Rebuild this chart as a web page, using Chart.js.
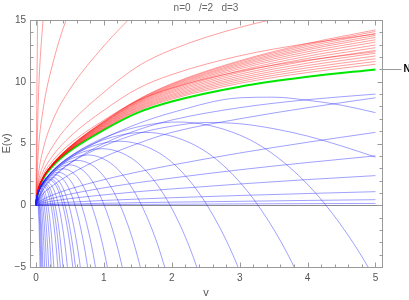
<!DOCTYPE html>
<html><head><meta charset="utf-8">
<script src="https://cdn.jsdelivr.net/npm/chart.js@4"></script>
<style>html,body{margin:0;padding:0;background:#fff}canvas{display:block}</style>
</head><body>
<canvas id="c" width="409" height="300"></canvas>
<script>
const titleText = "n=0   /=2   d=3";
const xLabel = "v";
const yLabel = "E(v)";
const lineLabel = "N";
const xTicks = [0,1,2,3,4,5];
const yTicks = [-5,0,5,10,15];

const vGrid  = [0,0.03,0.1,0.25,0.5,1,1.5,2,3,4,5];
const greenE = [0,1.1,2.1,3.2,4.4,6.1,7.5,8.4,9.6,10.4,11.0];

const redBand = [
 [0,1.11,2.11,3.23,4.45,6.19,7.64,8.59,9.87,10.75,11.42],
 [0,1.11,2.12,3.24,4.47,6.24,7.71,8.69,10.02,10.94,11.64],
 [0,1.11,2.13,3.25,4.49,6.29,7.78,8.79,10.17,11.13,11.86],
 [0,1.12,2.13,3.27,4.52,6.34,7.86,8.89,10.31,11.32,12.09],
 [0,1.12,2.14,3.28,4.54,6.39,7.93,8.99,10.46,11.51,12.31],
 [0,1.12,2.15,3.30,4.57,6.44,8.00,9.10,10.61,11.70,12.54],
 [0,1.13,2.16,3.31,4.59,6.49,8.08,9.20,10.76,11.89,12.76],
 [0,1.13,2.16,3.32,4.62,6.53,8.15,9.30,10.90,12.07,12.98],
 [0,1.13,2.17,3.34,4.64,6.58,8.22,9.40,11.05,12.26,13.21],
 [0,1.14,2.18,3.35,4.66,6.63,8.29,9.49,11.18,12.43,13.40],
 [0,1.14,2.18,3.36,4.68,6.67,8.35,9.57,11.30,12.59,13.59],
 [0,1.14,2.19,3.37,4.70,6.70,8.40,9.65,11.41,12.72,13.75],
 [0,1.15,2.19,3.38,4.72,6.74,8.46,9.72,11.51,12.86,13.91],
 [0,1.15,2.20,3.39,4.74,6.77,8.51,9.79,11.62,12.99,14.07],
 [0,1.15,2.20,3.40,4.75,6.80,8.55,9.85,11.70,13.10,14.20]
];
const redFanOnGrid = [
 [0,1.24,2.37,3.62,4.97,6.89,8.48,9.49,10.85,11.75,12.43],
 [0,1.39,2.65,4.03,5.54,7.69,9.45,10.58,12.10,13.10,13.86],
 [0,1.65,3.15,4.80,6.60,9.15,11.25,12.60,14.40,15.60,16.50]
];
const redSteep = [
 [[0,0],[0.03,2.2],[0.1,4.4],[0.25,6.9],[0.5,9.4],[1,12.9],[1.5,15.8]],
 [[0,0],[0.03,3.96],[0.1,7.56],[0.25,11.52],[0.5,15.84],[1,21.96]],
 [[0,0],[0.03,7.7],[0.1,14.7],[0.25,22.4]],
 [[0,0],[0.01,7],[0.025,16]]
];

const blueRising = [
 [0,0.21,0.46,0.84,1.32,2.07,2.70,3.25,4.23,5.10,5.90],
 [0,0.14,0.31,0.57,0.90,1.41,1.83,2.20,2.87,3.46,4.00],
 [0,0.09,0.19,0.34,0.54,0.84,1.10,1.32,1.72,2.08,2.40],
 [0,0.04,0.09,0.16,0.25,0.39,0.50,0.61,0.79,0.95,1.10],
 [0,0.02,0.04,0.06,0.10,0.16,0.21,0.25,0.32,0.39,0.45],
 [0,0.00,0.01,0.02,0.03,0.05,0.07,0.08,0.11,0.13,0.15]
];
const blueUpper = [
 [[0,0],[0.1,1.2],[0.25,2.2],[0.5,3.4],[1,5.0],[1.5,6.1],[2,6.9],[3,7.9],[4,8.55],[5,9.0]],
 [[0,0],[0.1,0.9],[0.25,1.6],[0.5,2.5],[1,3.9],[1.5,5.0],[2,5.9],[3,7.0],[4,7.9],[5,8.7]],
 [[0,0],[0.1,1.5],[0.25,2.6],[0.5,3.8],[1,5.4],[1.5,6.6],[2,7.5],[3,8.7],[3.5,8.75],[4,8.5],[4.5,8.1],[5,7.5]],
 [[0,0],[0.1,1.3],[0.25,2.3],[0.5,3.4],[1,4.8],[1.5,5.8],[2,6.4],[2.5,6.7],[3,6.6],[3.5,6.2],[4,5.6],[4.5,4.8],[5,3.9]]
];
const blueArcs = [
 [[0,.043,.214,.641,1.281,2.092,2.989,3.63,4.27,4.911,5.551],[0,1.16,2.59,4.44,6.02,6.74,5.71,3.56,0,-5.19,-12.23]],
 [[0,.033,.164,.491,.981,1.602,2.289,2.78,3.27,3.761,4.251],[0,1.01,2.26,3.89,5.27,5.90,5.0,3.12,0,-4.54,-10.71]],
 [[0,.025,.126,.378,.756,1.235,1.764,2.142,2.52,2.898,3.276],[0,.89,1.99,3.41,4.63,5.18,4.39,2.74,0,-3.99,-9.39]],
 [[0,.02,.099,.296,.593,.968,1.383,1.679,1.975,2.271,2.568],[0,.79,1.76,3.02,4.10,4.58,3.89,2.42,0,-3.53,-8.32]],
 [[0,.016,.078,.233,.467,.762,1.089,1.322,1.555,1.788,2.022],[0,.70,1.56,2.68,3.63,4.07,3.45,2.15,0,-3.13,-7.38]],
 [[0,.012,.062,.186,.372,.608,.868,1.054,1.24,1.426,1.612],[0,.62,1.39,2.40,3.25,3.63,3.08,1.92,0,-2.80,-6.59]],
 [[0,.01,.05,.151,.302,.492,.704,.854,1.005,1.156,1.307,1.508],[0,.56,1.25,2.15,2.92,3.27,2.77,1.73,0,-2.52,-5.93,-12.06]],
 [[0,.008,.041,.123,.245,.401,.573,.695,.818,.941,1.063,1.227],[0,.51,1.13,1.94,2.63,2.95,2.50,1.56,0,-2.27,-5.35,-10.88]],
 [[0,.007,.034,.101,.201,.328,.469,.57,.67,.771,.871,1.005],[0,.46,1.02,1.76,2.38,2.67,2.26,1.41,0,-2.05,-4.84,-9.85]],
 [[0,.006,.029,.086,.172,.281,.402,.488,.574,.66,.746,.861],[0,.42,.95,1.63,2.21,2.47,2.09,1.31,0,-1.90,-4.48,-9.12]],
 [[0,.005,.024,.073,.146,.238,.34,.412,.485,.558,.631,.728],[0,.39,.87,1.50,2.03,2.27,1.93,1.20,0,-1.75,-4.12,-8.39]],
 [[0,.004,.021,.064,.128,.21,.3,.364,.428,.492,.556,.642],[0,.37,.82,1.41,1.91,2.13,1.81,1.13,0,-1.64,-3.87,-7.87]],
 [[0,.004,.02,.059,.119,.194,.277,.336,.395,.454,.514,.593],[0,.35,.79,1.35,1.83,2.05,1.74,1.08,0,-1.58,-3.72,-7.57]],
 [[0,.003,.017,.05,.1,.163,.232,.282,.332,.382,.432,.498],[0,.32,.72,1.24,1.68,1.88,1.59,.99,0,-1.45,-3.41,-6.94]],
 [[0,.003,.014,.042,.084,.138,.197,.239,.281,.323,.365,.422],[0,.30,.66,1.14,1.55,1.73,1.47,.91,0,-1.33,-3.14,-6.39]],
 [[0,.003,.013,.038,.075,.123,.175,.213,.25,.288,.325,.375],[0,.28,.63,1.07,1.46,1.63,1.38,.86,0,-1.26,-2.96,-6.02]],
 [[0,.002,.011,.033,.066,.108,.155,.188,.221,.254,.287,.332],[0,.26,.59,1.01,1.37,1.53,1.30,.81,0,-1.18,-2.78,-5.65]],
 [[0,.002,.009,.026,.053,.086,.123,.15,.176,.202,.229,.264],[0,.24,.53,.90,1.22,1.37,1.16,.72,0,-1.05,-2.48,-5.05]],
 [[0,.001,.007,.022,.044,.072,.103,.125,.147,.169,.191,.221,.265],[0,.22,.48,.83,1.12,1.25,1.06,.66,0,-.96,-2.27,-4.62,-9.65]],
 [[0,.001,.006,.018,.036,.059,.084,.102,.12,.138,.156,.18,.216],[0,.19,.43,.74,1.01,1.13,.96,.60,0,-.87,-2.05,-4.17,-8.71]],
 [[0,.001,.005,.015,.029,.048,.068,.082,.097,.112,.126,.146,.175],[0,.17,.39,.67,.91,1.01,.86,.54,0,-.78,-1.84,-3.74,-7.81]],
 [[0,.004,.012,.023,.038,.054,.065,.077,.089,.1,.116,.139],[0,.35,.60,.81,.90,.77,.48,0,-.70,-1.64,-3.33,-6.96]],
 [[0,.003,.009,.018,.029,.042,.051,.06,.069,.078,.09,.108],[0,.31,.53,.71,.80,.68,.42,0,-.61,-1.45,-2.95,-6.15]],
 [[0,.0025,.0075,.015,.0245,.035,.0425,.05,.0575,.065,.075,.09],[0,.28,.48,.65,.73,.62,.38,0,-.56,-1.32,-2.69,-5.61]],
 [[0,.002,.006,.012,.0196,.028,.034,.04,.046,.052,.06,.072,.088],[0,.25,.43,.58,.65,.55,.34,0,-.5,-1.18,-2.41,-5.03,-10.3]],
 [[0,.0016,.0048,.0096,.0157,.0224,.0272,.032,.0368,.0416,.048,.0576,.0704],[0,.22,.38,.52,.58,.49,.31,0,-.45,-1.06,-2.15,-4.49,-9.17]]
];

const RED = 'rgba(255,0,0,0.38)';
const BLUE = 'rgba(30,30,255,0.42)';
const GREEN = '#00e600';

const zip = (xs, ys) => xs.map((x, i) => [x, ys[i]]);
const ds = (data, color, w) => ({data, borderColor: color, borderWidth: w, pointRadius: 0,
  showLine: true, fill: false, cubicInterpolationMode: 'monotone'});

const datasets = [];
blueArcs.forEach(a => datasets.push(ds(zip(a[0], a[1]), BLUE, 1)));
blueRising.forEach(e => datasets.push(ds(zip(vGrid, e), BLUE, 1)));
blueUpper.forEach(p => datasets.push(ds(p, BLUE, 1)));
redSteep.forEach(p => datasets.push(ds(p, RED, 1)));
redFanOnGrid.forEach(e => datasets.push(ds(zip(vGrid, e), RED, 1)));
redBand.forEach(e => datasets.push(ds(zip(vGrid, e), RED, 1)));
datasets.push(ds(zip(vGrid, greenE), GREEN, 2));

const FONT = 'Liberation Sans, Arial, sans-serif';
const GRAY = '#9a9a9a';

const framePlugin = {
  id: 'frame',
  beforeDatasetsDraw(chart) {
    const {ctx, chartArea: a, scales: {y}} = chart;
    const y0 = Math.round(y.getPixelForValue(0)) + 0.5;
    ctx.save();
    ctx.strokeStyle = '#8a8a8a'; ctx.lineWidth = 1;
    ctx.beginPath(); ctx.moveTo(a.left, y0); ctx.lineTo(a.right, y0); ctx.stroke();
    ctx.restore();
  },
  afterDraw(chart) {
    const {ctx, chartArea: a, scales: {x, y}} = chart;
    ctx.save();
    ctx.strokeStyle = GRAY; ctx.lineWidth = 1;
    const L = Math.round(a.left) + 0.5, R = Math.round(a.right) + 0.5;
    const T = Math.round(a.top) + 0.5, B = Math.round(a.bottom) + 0.5;
    ctx.strokeRect(L, T, R - L, B - T);
    ctx.beginPath();
    for (let i = 0; i <= 25; i++) {
      const v = i / 5, len = (i % 5 === 0) ? 5 : 3;
      const px = Math.round(x.getPixelForValue(v)) + 0.5;
      ctx.moveTo(px, B); ctx.lineTo(px, B - len);
      ctx.moveTo(px, T); ctx.lineTo(px, T + len);
    }
    for (let i = -5; i <= 15; i++) {
      const len = (i % 5 === 0) ? 5 : 3;
      const py = Math.round(y.getPixelForValue(i)) + 0.5;
      ctx.moveTo(L, py); ctx.lineTo(L + len, py);
      ctx.moveTo(R, py); ctx.lineTo(R - len, py);
    }
    ctx.stroke();
    const gy = Math.round(y.getPixelForValue(greenE[greenE.length - 1])) + 0.5;
    ctx.beginPath(); ctx.moveTo(R, gy); ctx.lineTo(R + 19, gy); ctx.stroke();
    ctx.fillStyle = '#000'; ctx.font = 'bold 10px ' + FONT;
    ctx.textBaseline = 'middle'; ctx.textAlign = 'left';
    ctx.fillText(lineLabel, R + 21, gy);
    ctx.fillStyle = '#666'; ctx.font = '10px ' + FONT; ctx.textAlign = 'center';
    ctx.fillText(titleText, (a.left + a.right) / 2, 8);
    ctx.restore();
  }
};

new Chart(document.getElementById('c'), {
  type: 'scatter',
  data: {datasets},
  options: {
    responsive: false, animation: false, events: [],
    layout: {padding: {top: 20, right: 27, left: 0, bottom: 0}},
    plugins: {legend: {display: false}, tooltip: {enabled: false}, title: {display: false}},
    scales: {
      x: {type: 'linear', min: -0.088, max: 5.096,
          afterBuildTicks: s => { s.ticks = xTicks.map(v => ({value: v})); },
          afterFit: s => { s.height = 33; },
          grid: {display: false, drawTicks: false}, border: {display: false},
          ticks: {color: '#555', font: {family: FONT, size: 10}, padding: 5, maxRotation: 0},
          title: {display: true, text: xLabel, color: '#555', font: {family: FONT, size: 11}, padding: {top: 4, bottom: 0}}},
      y: {type: 'linear', min: -5, max: 15,
          afterBuildTicks: s => { s.ticks = yTicks.map(v => ({value: v})); },
          afterFit: s => { s.width = 30; },
          grid: {display: false, drawTicks: false}, border: {display: false},
          ticks: {color: '#555', font: {family: FONT, size: 10}, padding: 4,
                  callback: v => (v < 0 ? '\u2212' + Math.abs(v) : String(v))},
          title: {display: true, text: yLabel, color: '#555', font: {family: FONT, size: 11}, padding: {top: 0, bottom: 2}}}
    }
  },
  plugins: [framePlugin]
});
</script>
</body></html>
